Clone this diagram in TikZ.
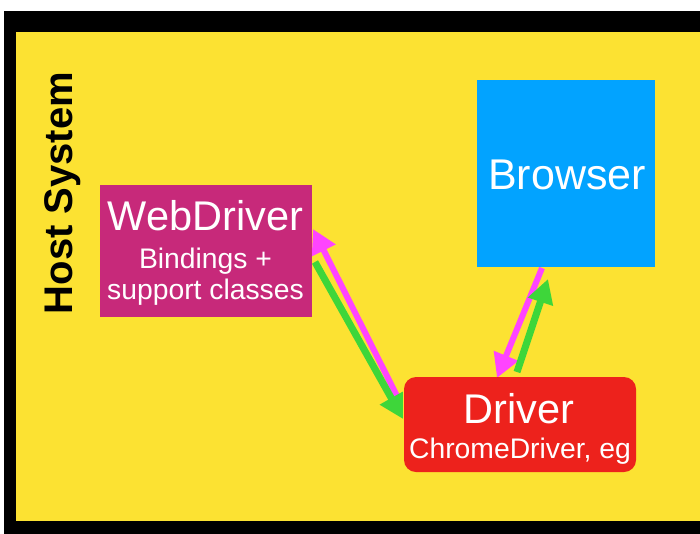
\documentclass[tikz,border=0pt]{standalone}
\usepackage{fontspec}
\setmainfont{Liberation Sans}
\usetikzlibrary{positioning,calc,arrows.meta,backgrounds}
\definecolor{hostyellow}{RGB}{252,226,50}
\definecolor{wdpink}{RGB}{199,41,122}
\definecolor{brblue}{RGB}{2,163,255}
\definecolor{drred}{RGB}{237,34,28}
\definecolor{callpink}{RGB}{255,68,255}
\definecolor{callgreen}{RGB}{62,214,58}
\newcommand{\titlesize}{\fontsize{41.5}{45}\selectfont}
\newcommand{\subsize}{\fontsize{28.3}{32}\selectfont}
\tikzset{
  box/.style={inner sep=0pt, outer sep=0pt},
  title/.style={text=white, anchor=base, font=\titlesize},
  sub/.style={text=white, anchor=base, font=\subsize},
  call/.style={line width=#1, -{Triangle[length=24pt, width=25pt]}},
}

\begin{document}
\begin{tikzpicture}[x=1pt, y=-1pt]
  \useasboundingbox (0, 0) rectangle (700, 533);

  % boxes
  \node [box, fill=wdpink, minimum width=212pt, minimum height=132pt] (wd) at (205.5, 251) {};
  \node [box, fill=brblue, minimum width=178pt, minimum height=187pt] (br) at (566, 173.5) {};
  \node [box, fill=drred, rounded corners=12pt, minimum width=232pt, minimum height=95pt] (dr) at (520, 424.5) {};

  \node [title] (wd title) at (205.5, 230) {WebDriver};
  \node [sub] (wd sub1) at (205.5, 268) {Bindings +};
  \node [sub] (wd sub2) at (205.5, 299) {support classes};
  \node [title, font=\fontsize{43}{47}\selectfont] (br title) at (567, 189) {Browser};
  \node [title] (dr title) at (519, 423) {Driver};
  \node [sub] (dr sub) at (520, 458) {ChromeDriver, eg};

  \node [rotate=90, anchor=base, font=\bfseries\fontsize{40}{44}\selectfont] (host) at (72, 193) {Host System};

  % arrow ends
  \coordinate (wd in)  at ($(wd.east) + (1.5, -22)$);
  \coordinate (wd out) at ($(wd.east) + (3.5, 11)$);
  \coordinate (dr in)  at ($(dr.west) + (-1, -5.5)$);
  \coordinate (dr out) at ($(dr.west) + (-4, -22.5)$);
  \coordinate (br out) at ($(br.south) + (-24, 1)$);
  \coordinate (br in)  at ($(br.south) + (-18, 12)$);
  \coordinate (dr top in)  at ($(dr.north) + (-23, 1)$);
  \coordinate (dr top out) at ($(dr.north) + (-3, -5)$);

  \begin{scope}[on background layer]
    \fill [black] (4, 11) rectangle (710, 540);
    \fill [hostyellow] (16, 32) rectangle (710, 521);

    \draw [call=6pt, callpink]  (dr out) -- (wd in);
    \draw [call=7pt, callgreen] (wd out) -- (dr in);
    \draw [call=6pt, callpink]  (br out) -- (dr top in);
    \draw [call=7pt, callgreen] (dr top out) -- (br in);
  \end{scope}
\end{tikzpicture}
\end{document}
